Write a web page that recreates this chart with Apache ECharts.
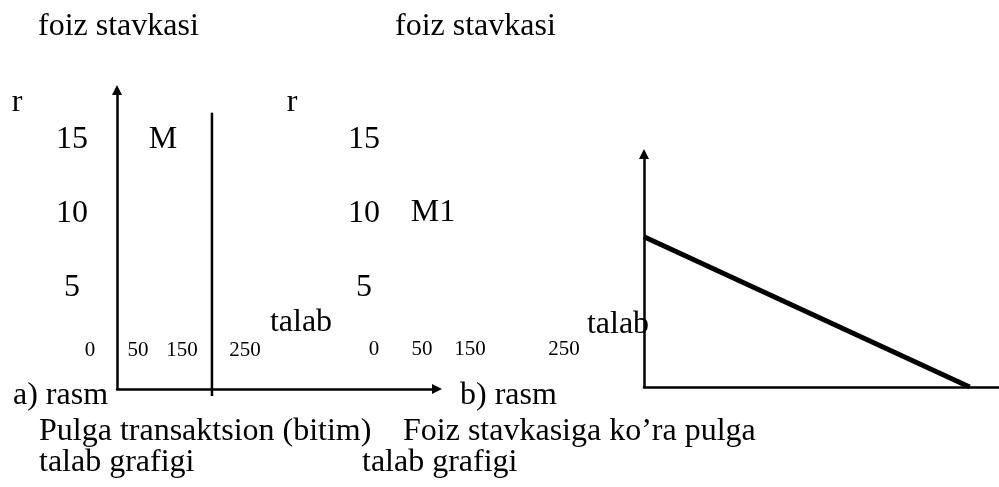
<!DOCTYPE html>
<html>
<head>
<meta charset="utf-8">
<script src="https://cdn.jsdelivr.net/npm/echarts@6/dist/echarts.min.js"></script>
<style>
  html, body { margin: 0; padding: 0; background: #fff; }
  #main { width: 999px; height: 487px; }
</style>
</head>
<body>
<div id="main"></div>
<script>
var chartDom = document.getElementById('main');
var myChart = echarts.init(chartDom);
var option;

// foiz stavkasi (r) belgilari
var rateTicks = [5, 10, 15];
// pul miqdori belgilari (rasmda o'qi ustida yozilgan)
var qtyTicks = ['0', '50', '150', '250'];
// a) transaksion talab: vertikal chiziq M
var transDemand = [[100, -2.33], [100, 16.8]];
// b) foiz stavkasiga ko'ra talab M1
var rateDemand = [[0, 10], [250, 0]];

var FONT = '"Liberation Serif", "Times New Roman", serif';

function txt(s, x, y, size, align) {
    return {
        type: 'text',
        x: x,
        y: y,
        style: {
            text: s,
            fill: '#000',
            font: size + 'px ' + FONT,
            align: align || 'left',
            textAlign: align || 'left',
            verticalAlign: 'middle',
            textVerticalAlign: 'middle'
        }
    };
}

var axisLineArrow = {
    symbol: ['none', 'triangle'],
    symbolSize: [10, 10],
    onZero: false,
    lineStyle: { color: '#000', width: 2.5 }
};

var qtyPosA = [90, 138, 182, 245];
var qtyPosB = [374, 422, 470, 564];
var graphics = [
    txt('foiz stavkasi', 38, 27, 32),
    txt('foiz stavkasi', 395, 27, 32),
    txt('r', 17, 103, 32, 'center'),
    txt('r', 292, 103, 32, 'center'),
    txt('M', 163, 140, 32, 'center'),
    txt('M1', 433, 213, 32, 'center'),
    txt('talab', 301, 323, 32, 'center'),
    txt('talab', 618, 325, 32, 'center'),
    txt('a) rasm', 13, 396, 32),
    txt('b) rasm', 460, 396, 32),
    txt('Pulga transaktsion (bitim)', 39, 432, 32),
    txt('Foiz stavkasiga ko\u2019ra pulga', 403, 432, 32),
    txt('talab grafigi', 39, 463, 32),
    txt('talab grafigi', 362, 463, 32)
];
qtyTicks.forEach(function (t, i) {
    graphics.push(txt(t, qtyPosA[i], 350, 21, 'center'));
    graphics.push(txt(t, qtyPosB[i], 349, 21, 'center'));
});

option = {
    animation: false,
    backgroundColor: '#fff',
    grid: [
        { left: 117, top: 90, width: 320, height: 299, outerBoundsMode: 'none' },
        { left: 644, top: 154, width: 366, height: 233, outerBoundsMode: 'none' }
    ],
    xAxis: [{
        gridIndex: 0,
        type: 'value',
        min: 0,
        max: 337,
        axisLine: axisLineArrow,
        axisTick: { show: false },
        axisLabel: { show: false },
        splitLine: { show: false }
    }, {
        gridIndex: 1,
        type: 'value',
        min: 0,
        max: 281,
        axisLine: axisLineArrow,
        axisTick: { show: false },
        axisLabel: { show: false },
        splitLine: { show: false }
    }],
    yAxis: [{
        gridIndex: 0,
        type: 'value',
        min: -1.86,
        max: 18.34,
        axisLine: axisLineArrow,
        axisTick: { show: false },
        splitLine: { show: false },
        axisLabel: {
            customValues: rateTicks,
            margin: 45,
            align: 'center',
            color: '#000',
            fontFamily: FONT,
            fontSize: 32
        }
    }, {
        // b) rasmning stavka belgilari chap tomonda turadi
        gridIndex: 0,
        type: 'value',
        position: 'left',
        offset: -247,
        min: -1.86,
        max: 18.34,
        axisLine: { show: false },
        axisTick: { show: false },
        splitLine: { show: false },
        axisLabel: {
            customValues: rateTicks,
            margin: 0,
            align: 'center',
            color: '#000',
            fontFamily: FONT,
            fontSize: 32
        }
    }, {
        gridIndex: 1,
        type: 'value',
        min: 0,
        max: 15.5,
        axisLine: axisLineArrow,
        axisTick: { show: false },
        axisLabel: { show: false },
        splitLine: { show: false }
    }],
    series: [{
        type: 'line',
        xAxisIndex: 0,
        yAxisIndex: 0,
        data: transDemand,
        symbol: 'none',
        clip: false,
        lineStyle: { color: '#000', width: 2.5 }
    }, {
        type: 'line',
        xAxisIndex: 1,
        yAxisIndex: 2,
        data: rateDemand,
        symbol: 'none',
        clip: false,
        lineStyle: { color: '#000', width: 5 }
    }],
    graphic: graphics
};

option && myChart.setOption(option);
</script>
</body>
</html>
